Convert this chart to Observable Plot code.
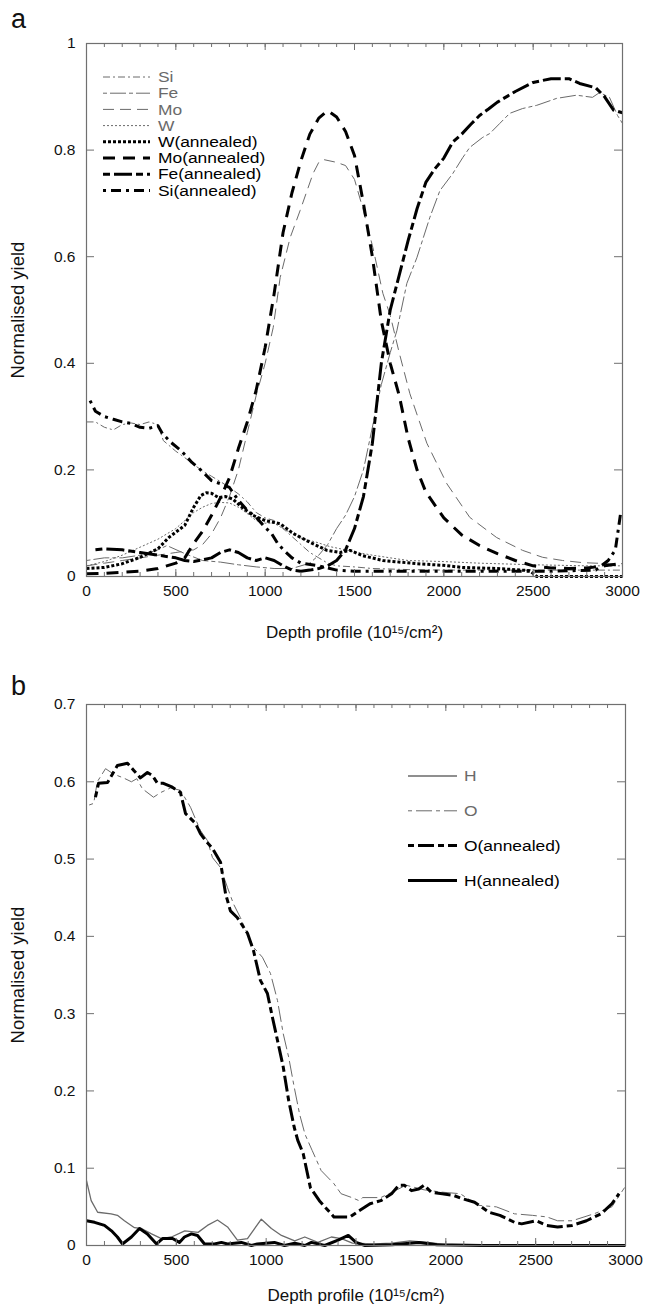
<!DOCTYPE html>
<html><head><meta charset="utf-8">
<script src="https://cdn.jsdelivr.net/npm/d3@7"></script>
<script src="https://cdn.jsdelivr.net/npm/@observablehq/plot@0.6"></script>
<style>
body{margin:0;background:#fff;font-family:"Liberation Sans",Arial,Helvetica,sans-serif;}
#wrap{position:relative;width:647px;height:1313px;overflow:hidden;background:#fff}
#wrap > svg{position:absolute;left:0}
.panel-label{position:absolute;left:11px;font-size:27px;line-height:1.2;color:#111}
</style></head><body><div id="wrap"></div><script>
// ---------- data (depth 10^15/cm^2, normalised yield) ----------
const xMajorTicks = [0,500,1000,1500,2000,2500,3000];
const xMinorTicks = d3.range(0,3001,100);
const yTicksA = [0,0.2,0.4,0.6,0.8,1];
const yTicksB = [0,0.1,0.2,0.3,0.4,0.5,0.6,0.7];

const si = [[0,0.29],[50,0.29],[100,0.28],[150,0.275],[200,0.285],[250,0.288],[300,0.285],[350,0.29],[400,0.285],[430,0.255],[500,0.235],[550,0.223],[600,0.21],[650,0.198],[700,0.188],[750,0.178],[800,0.167],[850,0.155],[900,0.14],[950,0.12],[1000,0.11],[1050,0.105],[1100,0.09],[1150,0.075],[1200,0.06],[1250,0.045],[1300,0.035],[1350,0.025],[1400,0.02],[1500,0.018],[1600,0.015],[1800,0.013],[2000,0.012],[2200,0.012],[2400,0.012],[2600,0.012],[2800,0.012],[3000,0.012]];
const fe = [[0,0.03],[100,0.035],[200,0.035],[300,0.04],[400,0.05],[450,0.058],[550,0.043],[650,0.03],[750,0.027],[850,0.022],[950,0.018],[1050,0.015],[1150,0.015],[1250,0.025],[1300,0.04],[1350,0.06],[1400,0.09],[1450,0.115],[1500,0.15],[1550,0.2],[1600,0.28],[1650,0.36],[1700,0.42],[1737,0.461],[1793,0.55],[1849,0.598],[1922,0.674],[1978,0.724],[2050,0.756],[2106,0.786],[2145,0.805],[2218,0.824],[2257,0.831],[2313,0.85],[2369,0.869],[2441,0.878],[2520,0.884],[2631,0.897],[2743,0.903],[2832,0.899],[2872,0.908],[2927,0.899],[2972,0.865],[3000,0.85]];
const mo = [[0,0.02],[100,0.025],[200,0.03],[300,0.035],[400,0.04],[500,0.045],[600,0.05],[650,0.06],[700,0.08],[750,0.11],[800,0.15],[850,0.2],[900,0.27],[950,0.34],[1000,0.40],[1045,0.467],[1084,0.561],[1140,0.636],[1196,0.687],[1268,0.756],[1300,0.777],[1330,0.782],[1400,0.777],[1450,0.771],[1500,0.745],[1547,0.69],[1603,0.617],[1659,0.531],[1700,0.49],[1750,0.42],[1810,0.343],[1905,0.25],[2017,0.174],[2145,0.111],[2296,0.073],[2441,0.049],[2553,0.036],[2665,0.03],[2777,0.026],[2927,0.024],[3000,0.024]];
const w = [[0,0.02],[100,0.028],[200,0.04],[300,0.055],[400,0.07],[500,0.09],[550,0.105],[600,0.12],[650,0.13],[700,0.137],[750,0.139],[800,0.138],[850,0.13],[900,0.118],[950,0.105],[1000,0.1],[1050,0.1],[1100,0.09],[1150,0.081],[1200,0.072],[1290,0.064],[1363,0.056],[1450,0.05],[1500,0.046],[1600,0.04],[1700,0.035],[1800,0.03],[2000,0.028],[2200,0.025],[2500,0.022],[2800,0.02],[3000,0.02]];
const wAnnealed = [[0,0.015],[100,0.017],[200,0.024],[300,0.036],[400,0.052],[460,0.073],[550,0.096],[600,0.13],[640,0.152],[670,0.157],[700,0.156],[740,0.148],[780,0.15],[820,0.145],[870,0.13],[930,0.115],[1000,0.105],[1084,0.099],[1156,0.081],[1251,0.064],[1346,0.049],[1419,0.045],[1475,0.049],[1547,0.039],[1659,0.03],[1849,0.024],[1994,0.021],[2106,0.017],[2300,0.015],[2480,0.011],[2520,0],[3000,0]];
const moAnnealed = [[0,0.005],[100,0.006],[200,0.008],[300,0.01],[400,0.015],[500,0.025],[550,0.035],[600,0.062],[650,0.085],[700,0.115],[750,0.148],[800,0.185],[850,0.24],[900,0.29],[950,0.35],[1000,0.43],[1050,0.53],[1100,0.645],[1150,0.72],[1200,0.78],[1250,0.83],[1300,0.86],[1350,0.874],[1400,0.862],[1450,0.835],[1500,0.79],[1550,0.7],[1600,0.6],[1650,0.48],[1700,0.4],[1750,0.34],[1800,0.26],[1850,0.2],[1900,0.158],[2000,0.11],[2100,0.078],[2200,0.058],[2300,0.043],[2400,0.03],[2500,0.02],[2600,0.016],[2700,0.015],[2800,0.016],[2900,0.02],[3000,0.025]];
const feAnnealed = [[50,0.05],[100,0.052],[200,0.05],[300,0.045],[400,0.04],[500,0.035],[550,0.03],[600,0.028],[700,0.035],[750,0.045],[800,0.05],[850,0.045],[900,0.035],[950,0.03],[1000,0.035],[1050,0.03],[1100,0.02],[1150,0.012],[1200,0.01],[1250,0.012],[1300,0.015],[1350,0.02],[1400,0.03],[1450,0.05],[1500,0.09],[1550,0.15],[1600,0.25],[1650,0.4],[1700,0.5],[1750,0.565],[1800,0.63],[1850,0.69],[1900,0.74],[1950,0.765],[2000,0.785],[2050,0.815],[2100,0.83],[2150,0.848],[2200,0.865],[2250,0.877],[2300,0.89],[2400,0.91],[2500,0.927],[2600,0.934],[2700,0.934],[2760,0.925],[2850,0.917],[2900,0.9],[2950,0.875],[3000,0.87]];
const siAnnealed = [[20,0.33],[50,0.31],[100,0.3],[150,0.295],[200,0.29],[250,0.287],[300,0.28],[350,0.278],[400,0.283],[425,0.268],[475,0.251],[530,0.236],[590,0.214],[630,0.203],[700,0.18],[750,0.174],[800,0.167],[850,0.143],[900,0.124],[950,0.111],[1000,0.092],[1035,0.081],[1070,0.062],[1105,0.049],[1150,0.035],[1200,0.025],[1300,0.02],[1400,0.012],[1500,0.01],[1700,0.01],[2000,0.01],[2300,0.01],[2600,0.01],[2850,0.012],[2920,0.03],[2960,0.05],[2990,0.12]];

const h = [[0,0.084],[26,0.058],[62,0.043],[137,0.041],[172,0.039],[211,0.032],[267,0.023],[306,0.022],[362,0.015],[417,0.009],[473,0.011],[547,0.019],[621,0.017],[673,0.026],[729,0.033],[785,0.024],[840,0.007],[896,0.009],[973,0.034],[1029,0.022],[1085,0.013],[1159,0.006],[1215,0.011],[1288,0.004],[1363,0.011],[1419,0.009],[1480,0.003],[1600,0.002],[1700,0.003],[1800,0.006],[1900,0.004],[2000,0.001],[2200,0.001],[2500,0.001],[2800,0.001],[3000,0.001]];
const o = [[15,0.57],[40,0.572],[60,0.6],[106,0.617],[150,0.61],[206,0.605],[250,0.6],[280,0.604],[311,0.591],[373,0.58],[412,0.586],[467,0.592],[523,0.589],[579,0.567],[634,0.537],[673,0.524],[701,0.502],[746,0.489],[785,0.463],[818,0.442],[857,0.424],[929,0.386],[979,0.373],[1024,0.352],[1063,0.317],[1095,0.274],[1125,0.244],[1156,0.205],[1186,0.17],[1216,0.144],[1256,0.123],[1306,0.097],[1377,0.08],[1417,0.067],[1477,0.062],[1517,0.058],[1537,0.062],[1638,0.062],[1718,0.071],[1779,0.078],[1879,0.072],[1980,0.069],[2080,0.067],[2181,0.052],[2281,0.05],[2382,0.041],[2482,0.039],[2562,0.037],[2622,0.032],[2703,0.032],[2824,0.041],[2924,0.05],[2995,0.075]];
const oAnnealed = [[50,0.58],[67,0.598],[117,0.599],[172,0.621],[228,0.624],[262,0.615],[300,0.605],[339,0.612],[367,0.608],[395,0.598],[428,0.598],[478,0.593],[523,0.586],[551,0.559],[607,0.546],[634,0.533],[662,0.524],[701,0.514],[746,0.496],[774,0.455],[801,0.433],[840,0.424],[896,0.404],[929,0.382],[968,0.343],[1007,0.326],[1035,0.295],[1055,0.274],[1095,0.231],[1125,0.188],[1156,0.153],[1176,0.136],[1206,0.119],[1246,0.075],[1296,0.058],[1377,0.037],[1467,0.037],[1517,0.045],[1578,0.054],[1638,0.058],[1698,0.067],[1739,0.078],[1769,0.078],[1809,0.071],[1849,0.073],[1879,0.078],[1919,0.069],[1980,0.067],[2040,0.065],[2100,0.06],[2160,0.056],[2241,0.043],[2301,0.039],[2382,0.03],[2422,0.028],[2502,0.032],[2562,0.026],[2622,0.024],[2703,0.026],[2783,0.032],[2864,0.041],[2924,0.054],[2964,0.067]];
const hAnnealed = [[0,0.032],[45,0.03],[100,0.026],[139,0.019],[172,0.011],[200,0.002],[250,0.011],[295,0.022],[339,0.015],[390,0.002],[423,0.009],[479,0.009],[517,0.004],[545,0.011],[584,0.015],[618,0.013],[657,0.002],[712,0.002],[751,0.004],[785,0.002],[862,0.004],[918,0],[951,0.002],[1046,0.004],[1102,0],[1159,0.003],[1215,0],[1252,0.004],[1326,0],[1400,0.007],[1457,0.013],[1500,0.004],[1550,0],[1700,0.001],[1850,0.004],[1950,0.001],[2200,0],[2600,0],[3000,0]];

const seriesA = [
  {name:"Si", data:si}, {name:"Fe", data:fe}, {name:"Mo", data:mo}, {name:"W", data:w},
  {name:"W(annealed)", data:wAnnealed}, {name:"Mo(annealed)", data:moAnnealed},
  {name:"Fe(annealed)", data:feAnnealed}, {name:"Si(annealed)", data:siAnnealed}
];
const seriesB = [
  {name:"H", data:h}, {name:"O", data:o}, {name:"O(annealed)", data:oAnnealed}, {name:"H(annealed)", data:hAnnealed}
];

// ---------- styles ----------
const GRAY = "#6a6a6a";
const styles = {
  "Si": {stroke:GRAY, width:1, dash:"7,3,2,3"},
  "Fe": {stroke:GRAY, width:1, dash:"4,3,16,3"},
  "Mo": {stroke:GRAY, width:1, dash:"11,6"},
  "W": {stroke:GRAY, width:1, dash:"2,2"},
  "W(annealed)": {stroke:"#000", width:3, dash:"3,2"},
  "Mo(annealed)": {stroke:"#000", width:3, dash:"12,8"},
  "Fe(annealed)": {stroke:"#000", width:3, dash:"7,4,18,4"},
  "Si(annealed)": {stroke:"#000", width:3, dash:"3,5,10,5"},
  "H": {stroke:GRAY, width:1.3, dash:null},
  "O": {stroke:GRAY, width:1, dash:"4,4,16,4"},
  "O(annealed)": {stroke:"#000", width:3, dash:"6,4,16,4"},
  "H(annealed)": {stroke:"#000", width:3, dash:null}
};
const FONT = '"Liberation Sans", Arial, Helvetica, sans-serif';
const FRAME = "#707070";
const fmt = d => String(+d.toFixed(1));

function panel(series, cfg) {
  const pw = 647 - cfg.ml - cfg.mr, ph = cfg.height - cfg.mt - cfg.mb;
  const ty = px => px * cfg.yMax / ph;      // pixel length -> y units
  const tx = px => px * 3000 / pw;          // pixel length -> x units
  const marks = [];
  for (const s of series) {
    const st = styles[s.name];
    marks.push(Plot.line(s.data, {x: d => d[0], y: d => d[1], stroke: st.stroke, strokeWidth: st.width,
      strokeDasharray: st.dash || undefined, strokeLinecap: "butt", strokeLinejoin: "round"}));
  }
  marks.push(Plot.frame({stroke: FRAME, strokeWidth: 1.2}));
  // inward ticks: bottom & top
  marks.push(Plot.ruleX(xMinorTicks, {x: d => d, y1: 0, y2: ty(4), stroke: FRAME}));
  marks.push(Plot.ruleX(xMinorTicks, {x: d => d, y1: cfg.yMax, y2: cfg.yMax - ty(4), stroke: FRAME}));
  marks.push(Plot.ruleX(xMajorTicks, {x: d => d, y1: 0, y2: ty(7), stroke: FRAME}));
  marks.push(Plot.ruleX(xMajorTicks, {x: d => d, y1: cfg.yMax, y2: cfg.yMax - ty(7), stroke: FRAME}));
  // inward ticks: left & right
  marks.push(Plot.ruleY(cfg.yTicks, {y: d => d, x1: 0, x2: tx(8), stroke: FRAME}));
  marks.push(Plot.ruleY(cfg.yTicks, {y: d => d, x1: 3000, x2: 3000 - tx(8), stroke: FRAME}));
  marks.push(Plot.axisX({ticks: xMajorTicks, tickSize: 0, tickPadding: 8, tickFormat: d => String(d), fontSize: "15.5px", label: null, fill: "#111"}));
  marks.push(Plot.axisY({ticks: cfg.yTicks, tickSize: 0, tickPadding: 11, tickFormat: fmt, fontSize: "15.5px", label: null, fill: "#111"}));
  marks.push(Plot.text(["Depth profile (10¹⁵/cm²)"], {frameAnchor: "bottom", dy: cfg.titleDy, fontSize: "17px", fill: "#111"}));
  marks.push(Plot.text(["Normalised yield"], {frameAnchor: "left", textAnchor: "middle", dx: -68, rotate: -90, fontSize: "18.5px", fill: "#111"}));
  const svg = Plot.plot({
    width: 647, height: cfg.height,
    marginLeft: cfg.ml, marginRight: cfg.mr, marginTop: cfg.mt, marginBottom: cfg.mb,
    x: {domain: [0, 3000]}, y: {domain: [0, cfg.yMax]},
    style: {fontFamily: FONT, fontSize: "15.5px", background: "transparent", overflow: "visible"},
    marks
  });
  svg.style.top = cfg.top + "px";
  return svg;
}

const wrap = document.getElementById("wrap");
wrap.appendChild(panel(seriesA, {top: 0, height: 660, ml: 86, mr: 25, mt: 43, mb: 84, yMax: 1, yTicks: yTicksA, titleDy: 61}));
wrap.appendChild(panel(seriesB, {top: 660, height: 653, ml: 86, mr: 22, mt: 44, mb: 68, yMax: 0.7, yTicks: yTicksB, titleDy: 55}));

// panel letters
for (const [t, top] of [["a", 3], ["b", 670]]) {
  const d = document.createElement("div");
  d.className = "panel-label"; d.textContent = t; d.style.top = top + "px";
  wrap.appendChild(d);
}

// legends (text slightly widened like the original typesetting)
const legendA = {x0: 103, x1: 150, tx: 158, y0: 77, dy: 16.2, fontSize: 14.5, stretch: 1.2, items: seriesA.map(s => s.name)};
const legendB = {x0: 408, x1: 457, tx: 464, y0: 776, dy: 34.8, fontSize: 14.5, stretch: 1.2, items: seriesB.map(s => s.name)};
const lsvg = d3.create("svg").attr("width", 647).attr("height", 1313).style("top", "0px").style("pointer-events", "none");
for (const L of [legendA, legendB]) {
  L.items.forEach((name, i) => {
    const st = styles[name], y = L.y0 + i * L.dy;
    lsvg.append("line").attr("x1", L.x0).attr("x2", L.x1).attr("y1", y).attr("y2", y)
      .attr("stroke", st.stroke).attr("stroke-width", st.width).attr("stroke-dasharray", st.dash);
    lsvg.append("text").attr("transform", `translate(${L.tx},${y}) scale(${L.stretch},1)`).attr("dy", "0.36em")
      .attr("font-family", FONT).attr("font-size", L.fontSize)
      .attr("fill", st.stroke === "#000" ? "#000" : GRAY).text(name);
  });
}
wrap.appendChild(lsvg.node());
</script></body></html>
